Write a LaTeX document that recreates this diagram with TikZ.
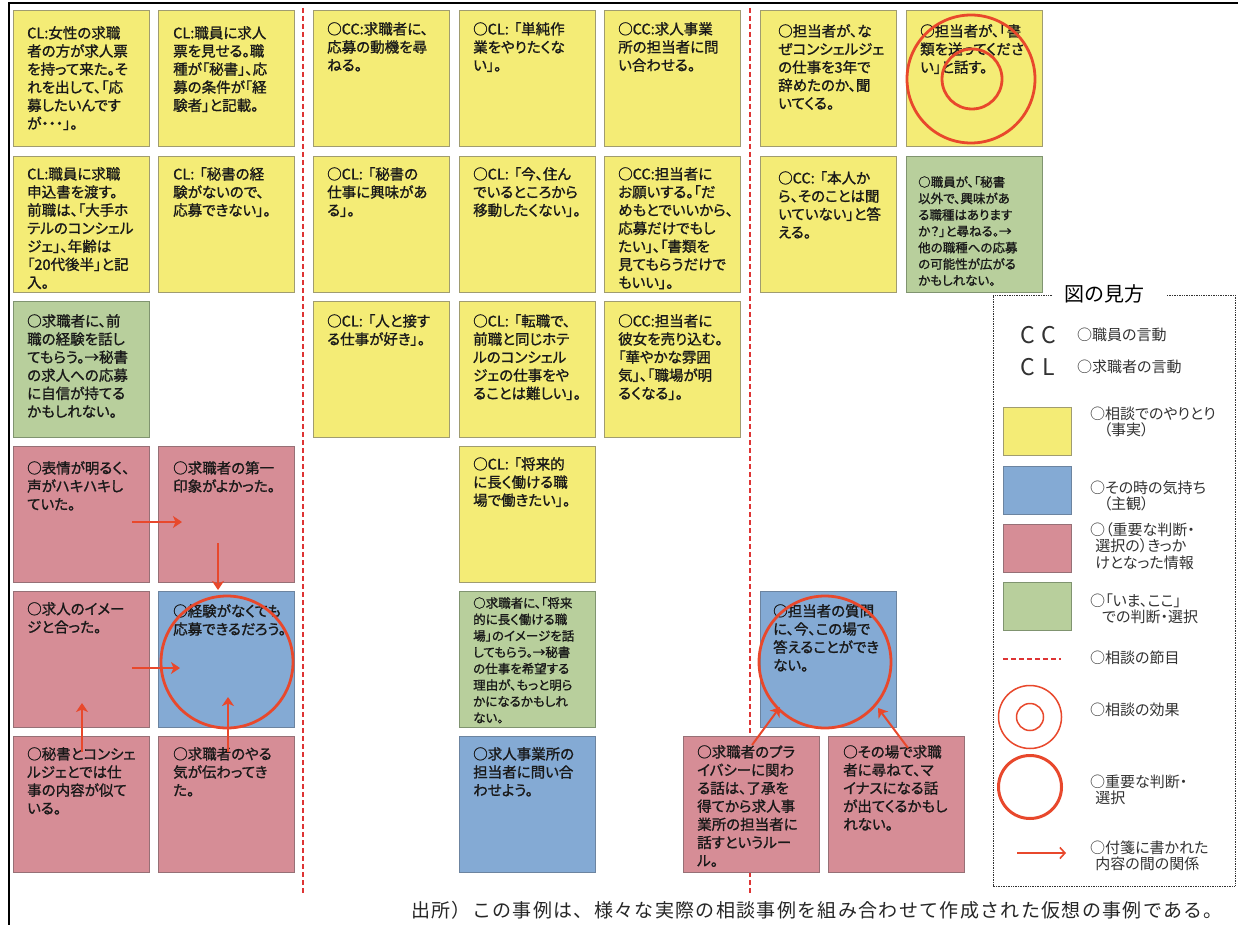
\documentclass[tikz,border=0pt]{standalone}
\usepackage{fontspec}
\setmainfont{Noto Sans CJK JP}
\newfontfamily\boxfont[RawFeature=+palt,FakeBold=1.2]{Noto Sans CJK JP}
\newfontfamily\legfont[RawFeature=+palt]{Noto Sans CJK JP}
\newfontfamily\jpls[LetterSpace=30]{Noto Sans CJK JP}
\newfontfamily\jpfoot[LetterSpace=7]{Noto Sans CJK JP}
\usetikzlibrary{arrows.meta}
\definecolor{yfill}{RGB}{244,236,118}
\definecolor{yline}{RGB}{160,156,112}
\definecolor{bfill}{RGB}{132,170,212}
\definecolor{bline}{RGB}{108,132,160}
\definecolor{rfill}{RGB}{214,141,150}
\definecolor{rline}{RGB}{150,112,118}
\definecolor{gfill}{RGB}{184,207,156}
\definecolor{gline}{RGB}{128,148,112}
\definecolor{accent}{RGB}{232,72,44}
\definecolor{sepred}{RGB}{222,52,52}
\definecolor{legtext}{RGB}{50,50,50}
\newcommand\qgap{\kern0.35em}
\begin{document}
\begin{tikzpicture}[x=1pt,y=-1pt,
  sticky/.style={anchor=north west,minimum width=136pt,minimum height=136pt,inner sep=0pt,line width=0.8pt},
  ybox/.style={sticky,fill=yfill,draw=yline},
  bbox/.style={sticky,fill=bfill,draw=bline},
  rbox/.style={sticky,fill=rfill,draw=rline},
  gbox/.style={sticky,fill=gfill,draw=gline},
  txt/.style={anchor=north west,inner sep=0pt,align=left,text=black!90,font=\boxfont\fontsize{14.5}{18.1}\selectfont},
  stxt/.style={txt,font=\boxfont\fontsize{12.5}{16.4}\selectfont},
  arr/.style={draw=accent,line width=2.5pt,-{Stealth[length=9pt,width=12pt,inset=2.5pt]}},
  ring/.style={circle,draw=accent,line width=2.8pt,inner sep=0pt},
  sep/.style={draw=sepred,line width=1.8pt,dash pattern=on 5pt off 3pt},
  swatch/.style={anchor=north west,minimum width=68pt,minimum height=48pt,inner sep=0pt,line width=0.8pt},
  legtxt/.style={anchor=west,inner sep=0pt,align=left,text=legtext,font=\legfont\fontsize{15}{16.5}\selectfont},
]
\useasboundingbox (0,0) rectangle (1238,925);
\fill[white] (0,0) rectangle (1238,925);
% frame
\draw[line width=1.6pt,black] (9,925) -- (9,3) -- (1238,3);
% section separators
\draw[sep] (303,8) -- (303,893);
\draw[sep] (750,8) -- (750,893);

% column 1-2
\node[ybox] (b11) at (13,10) {};
\node[txt] (b11t) at ([shift={(14,16)}]b11.north west) {CL:女性の求職\\者の方が求人票\\を持って来た。そ\\れを出して、「応\\募したいんです\\が・・・」。};
\node[ybox] (b12) at (158,10) {};
\node[txt] (b12t) at ([shift={(15,16)}]b12.north west) {CL:職員に求人\\票を見せる。職\\種が「秘書」、応\\募の条件が「経\\験者」と記載。};
\node[ybox] (b21) at (13,156) {};
\node[txt] (b21t) at ([shift={(14,11)}]b21.north west) {CL:職員に求職\\申込書を渡す。\\前職は、「大手ホ\\テルのコンシェル\\ジェ」、年齢は\\「20代後半」と記\\入。};
\node[ybox] (b22) at (158,156) {};
\node[txt] (b22t) at ([shift={(15,11)}]b22.north west) {CL:\qgap「秘書の経\\験がないので、\\応募できない」。};
\node[gbox] (b31) at (13,301) {};
\node[txt] (b31t) at ([shift={(14,13)}]b31.north west) {○求職者に、前\\職の経験を話し\\てもらう。→秘書\\の求人への応募\\に自信が持てる\\かもしれない。};
\node[rbox] (b41) at (13,446) {};
\node[txt] (b41t) at ([shift={(14,15)}]b41.north west) {○表情が明るく、\\声がハキハキし\\ていた。};
\node[rbox] (b42) at (158,446) {};
\node[txt] (b42t) at ([shift={(15,15)}]b42.north west) {○求職者の第一\\印象がよかった。};
\node[rbox] (b51) at (13,591) {};
\node[txt] (b51t) at ([shift={(14,11)}]b51.north west) {○求人のイメー\\ジと合った。};
\node[bbox] (b52) at (158,591) {};
\node[txt] (b52t) at ([shift={(15,13)}]b52.north west) {○経験がなくても\\応募できるだろう。};
\node[rbox] (b61) at (13,736) {};
\node[txt] (b61t) at ([shift={(14,11)}]b61.north west) {○秘書とコンシェ\\ルジェとでは仕\\事の内容が似て\\いる。};
\node[rbox] (b62) at (158,736) {};
\node[txt] (b62t) at ([shift={(15,11)}]b62.north west) {○求職者のやる\\気が伝わってき\\た。};

% columns 3-5
\node[ybox] (b13) at (313,10) {};
\node[txt] (b13t) at ([shift={(14,12)}]b13.north west) {○CC:求職者に、\\応募の動機を尋\\ねる。};
\node[ybox] (b14) at (459,10) {};
\node[txt] (b14t) at ([shift={(14,12)}]b14.north west) {○CL:\qgap「単純作\\業をやりたくな\\い」。};
\node[ybox] (b15) at (604,10) {};
\node[txt] (b15t) at ([shift={(14,12)}]b15.north west) {○CC:求人事業\\所の担当者に問\\い合わせる。};
\node[ybox] (b23) at (313,156) {};
\node[txt] (b23t) at ([shift={(14,11)}]b23.north west) {○CL:\qgap「秘書の\\仕事に興味があ\\る」。};
\node[ybox] (b24) at (459,156) {};
\node[txt] (b24t) at ([shift={(14,11)}]b24.north west) {○CL:\qgap「今、住ん\\でいるところから\\移動したくない」。};
\node[ybox] (b25) at (604,156) {};
\node[txt] (b25t) at ([shift={(14,11)}]b25.north west) {○CC:担当者に\\お願いする。「だ\\めもとでいいから、\\応募だけでもし\\たい」、「書類を\\見てもらうだけで\\もいい」。};
\node[ybox] (b33) at (313,301) {};
\node[txt] (b33t) at ([shift={(14,13)}]b33.north west) {○CL:\qgap「人と接す\\る仕事が好き」。};
\node[ybox] (b34) at (459,301) {};
\node[txt] (b34t) at ([shift={(14,13)}]b34.north west) {○CL:\qgap「転職で、\\前職と同じホテ\\ルのコンシェル\\ジェの仕事をや\\ることは難しい」。};
\node[ybox] (b35) at (604,301) {};
\node[txt] (b35t) at ([shift={(14,13)}]b35.north west) {○CC:担当者に\\彼女を売り込む。\\「華やかな雰囲\\気」、「職場が明\\るくなる」。};
\node[ybox] (b44) at (459,446) {};
\node[txt] (b44t) at ([shift={(14,11)}]b44.north west) {○CL:\qgap「将来的\\に長く働ける職\\場で働きたい」。};
\node[gbox] (b54) at (459,591) {};
\node[stxt] (b54t) at ([shift={(14,6)}]b54.north west) {○求職者に、「将来\\的に長く働ける職\\場」のイメージを話\\してもらう。→秘書\\の仕事を希望する\\理由が、もっと明ら\\かになるかもしれ\\ない。};
\node[bbox] (b64) at (459,736) {};
\node[txt] (b64t) at ([shift={(14,11)}]b64.north west) {○求人事業所の\\担当者に問い合\\わせよう。};

% columns 6-7
\node[ybox] (b16) at (760,10) {};
\node[txt] (b16t) at ([shift={(18,14)}]b16.north west) {○担当者が、な\\ぜコンシェルジェ\\の仕事を3年で\\辞めたのか、聞\\いてくる。};
\node[ybox] (b17) at (906,10) {};
\node[txt] (b17t) at ([shift={(14,14)}]b17.north west) {○担当者が、「書\\類を送ってくださ\\い」と話す。};
\node[ybox] (b26) at (760,156) {};
\node[txt] (b26t) at ([shift={(18,15)}]b26.north west) {○CC:\qgap「本人か\\ら、そのことは聞\\いていない」と答\\える。};
\node[gbox] (b27) at (906,156) {};
\node[stxt] (b27t) at ([shift={(12,20)}]b27.north west) {○職員が、「秘書\\以外で、興味があ\\る職種はあります\\か？」と尋ねる。→\\他の職種への応募\\の可能性が広がる\\かもしれない。};
\node[bbox] (b56) at (760,591) {};
\node[txt] (b56t) at ([shift={(13,13)}]b56.north west) {○担当者の質問\\に、今、この場で\\答えることができ\\ない。};
\node[rbox] (bL) at (683,736) {};
\node[txt] (bLt) at ([shift={(14,9)}]bL.north west) {○求職者のプラ\\イバシーに関わ\\る話は、了承を\\得てから求人事\\業所の担当者に\\話すというルー\\ル。};
\node[rbox] (bR) at (828,736) {};
\node[txt] (bRt) at ([shift={(15,9)}]bR.north west) {○その場で求職\\者に尋ねて、マ\\イナスになる話\\が出てくるかもし\\れない。};

% circles
\node[ring,minimum size=128pt] (c17o) at (971,79) {};
\node[ring,minimum size=60pt] (c17i) at (972,79) {};
\node[ring,minimum size=132pt] (c52) at (227,662) {};
\node[ring,minimum size=132pt] (c56) at (825,662) {};

% arrows
\coordinate (a1s) at (132,522); \coordinate (a1e) at (182,522);
\coordinate (a2s) at (218,543); \coordinate (a2e) at (218,590);
\coordinate (a3s) at (132,668); \coordinate (a3e) at (180,668);
\coordinate (a4s) at (82,752);  \coordinate (a4e) at (82,703);
\coordinate (a5s) at (228,752); \coordinate (a5e) at (228,697);
\coordinate (a6s) at (752,745); \coordinate (a6e) at (780,707);
\coordinate (a7s) at (908,748); \coordinate (a7e) at (878,708);
\draw[arr] (a1s) -- (a1e);
\draw[arr] (a2s) -- (a2e);
\draw[arr] (a3s) -- (a3e);
\draw[arr] (a4s) -- (a4e);
\draw[arr] (a5s) -- (a5e);
\draw[arr,line width=2pt] (a6s) -- (a6e);
\draw[arr,line width=2pt] (a7s) -- (a7e);

% legend
\draw[legtext,line width=1pt,dash pattern=on 0.8pt off 0.9pt] (1052,295) -- (993,295) -- (993,886) -- (1235,886) -- (1235,295) -- (1167,295);
\node[inner sep=0pt,font=\fontsize{20}{20}\selectfont] (ltitle) at (1104,294) {図の見方};
\node[inner sep=0pt,font=\fontsize{23}{23}\selectfont\jpls,text=legtext] (lcc) at (1038,335) {CC};
\node[legtxt] (lccl) at (1077,335) {○職員の言動};
\node[inner sep=0pt,font=\fontsize{23}{23}\selectfont\jpls,text=legtext] (lcl) at (1038,367) {CL};
\node[legtxt] (lcll) at (1077,367) {○求職者の言動};
\node[swatch,fill=yfill,draw=yline] (lsy) at (1003,407) {};
\node[legtxt] (lsyl) at (1090,422) {○相談でのやりとり\\\hspace{0.9em}（事実）};
\node[swatch,fill=bfill,draw=bline] (lsb) at (1003,466) {};
\node[legtxt] (lsbl) at (1090,496) {○その時の気持ち\\\hspace{0.9em}（主観）};
\node[swatch,fill=rfill,draw=rline] (lsr) at (1003,524) {};
\node[legtxt] (lsrl) at (1090,546) {○（重要な判断・\\\hspace{0.35em}選択の）きっか\\\hspace{0.35em}けとなった情報};
\node[swatch,fill=gfill,draw=gline] (lsg) at (1003,582) {};
\node[legtxt] (lsgl) at (1090,609) {○「いま、ここ」\\\hspace{0.8em}での判断・選択};
\coordinate (lds) at (1003,659); \coordinate (lde) at (1061,659);
\draw[sep,line width=1.5pt,dash pattern=on 5pt off 3pt] (lds) -- (lde);
\node[legtxt] (ldl) at (1090,658) {○相談の節目};
\node[circle,draw=accent,line width=1.5pt,minimum size=63pt,inner sep=0pt] (lco) at (1030,717) {};
\node[circle,draw=accent,line width=1.5pt,minimum size=27pt,inner sep=0pt] (lci) at (1030,717) {};
\node[legtxt] (lcl2) at (1090,710) {○相談の効果};
\node[circle,draw=accent,line width=3pt,minimum size=63pt,inner sep=0pt] (lbig) at (1030,787) {};
\node[legtxt] (lbigl) at (1090,790) {○重要な判断・\\\hspace{0.35em}選択};
\coordinate (las) at (1017,853); \coordinate (lae) at (1066,853);
\draw[draw=accent,line width=1.6pt,-{Straight Barb[length=5pt,width=11pt]}] (las) -- (lae);
\node[legtxt] (lal) at (1090,856) {○付箋に書かれた\\\hspace{0.35em}内容の間の関係};

% footer
\node[anchor=west,inner sep=0pt,font=\fontsize{19}{19}\selectfont\jpfoot,text=black!85] (foot) at (411,910) {出所）この事例は、様々な実際の相談事例を組み合わせて作成された仮想の事例である。};
\end{tikzpicture}
\end{document}
